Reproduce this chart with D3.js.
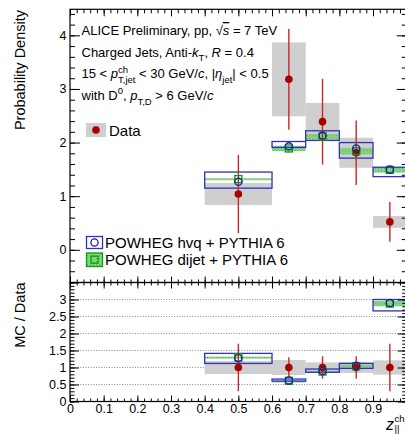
<!DOCTYPE html>
<html><head><meta charset="utf-8">
<script src="https://cdn.jsdelivr.net/npm/d3@7"></script>
<style>
body{margin:0;background:#fff;}
svg text{font-family:"Liberation Sans",Arial,Helvetica,sans-serif;fill:#000;white-space:pre;}
</style></head><body>
<svg id="c" width="405" height="435"></svg>
<script>
// z_||^ch bins
const binLo  = [0.4, 0.6, 0.7, 0.8, 0.9];
const binHi  = [0.6, 0.7, 0.8, 0.9, 1.0];
const binMid = [0.5, 0.65, 0.75, 0.85, 0.95];

// measured distribution
const dataVal  = [1.04, 3.18, 2.39, 1.81, 0.52];
const dataStat = [0.73, 0.94, 0.80, 0.60, 0.37];
const dataSys  = [0.205, 0.69, 0.35, 0.28, 0.11];

// POWHEG hvq + PYTHIA 6
const hvqVal  = [1.27, 1.93, 2.13, 1.89, 1.50];
const hvqLow  = [1.15, 1.91, 2.04, 1.71, 1.365];
const hvqHigh = [1.45, 2.02, 2.22, 2.00, 1.54];

// POWHEG dijet + PYTHIA 6
const dijetVal = [1.32, 1.89, 2.11, 1.84, 1.49];
const dijetErr = [0.015, 0.05, 0.05, 0.06, 0.05];

// MC / Data ratios
const ratioStat     = [0.70, 0.30, 0.33, 0.33, 0.70];
const ratioSys      = [0.19, 0.22, 0.15, 0.16, 0.21];
const hvqRatio      = [1.27, 0.62, 0.90, 1.05, 2.90];
const hvqRatioLow   = [1.12, 0.60, 0.86, 0.975, 2.665];
const hvqRatioHigh  = [1.415, 0.66, 0.955, 1.12, 3.00];
const dijetRatio    = [1.30, 0.61, 0.88, 1.04, 2.88];
const dijetRatioErr = [0.02, 0.01, 0.02, 0.04, 0.08];

// axis ticks
const xMajor = d3.range(0, 1.0001, 0.1).map(v => +v.toFixed(2));
const xMinor = d3.range(0, 1.0001, 0.02).map(v => +v.toFixed(2));
const xLabels = ["0","0.1","0.2","0.3","0.4","0.5","0.6","0.7","0.8","0.9",""];
const topYMajor = [0, 1, 2, 3, 4];
const topYMinor = d3.range(-0.6, 4.41, 0.2).map(v => +v.toFixed(2));
const ratioYMajor = [0, 0.5, 1, 1.5, 2, 2.5, 3, 3.5];
const ratioYLabels = ["0","0.5","1","1.5","2","2.5","3",""];
const ratioYMinor = d3.range(0, 3.501, 0.1).map(v => +v.toFixed(2));
const ratioGrid = [0.5, 1, 1.5, 2, 2.5, 3];

const C = {
  grey: "#cfcfcf", red: "#a80000", redErr: "#c82828",
  blue: "#3030b8", blueMk: "#1c1ca8", green: "#00a000"
};

const svg = d3.select("#c");
const defs = svg.append("defs");
const pat = defs.append("pattern").attr("id", "hatch")
  .attr("width", 3).attr("height", 3).attr("patternUnits", "userSpaceOnUse");
pat.append("rect").attr("width", 3).attr("height", 3).attr("fill", "#a6dca6");
pat.append("rect").attr("width", 1.5).attr("height", 1.5).attr("fill", "#48b848");
pat.append("rect").attr("x", 1.5).attr("y", 1.5).attr("width", 1.5).attr("height", 1.5).attr("fill", "#6cc66c");

const X0 = 70, X1 = 406.7;
const topY0 = 9.3, midY = 282.5, botY = 401.5;

const x = d3.scaleLinear([0, 1], [X0, X1]);
const yTop = d3.scaleLinear([-0.61, 4.486], [midY, topY0]);
const yRat = d3.scaleLinear([0, 3.5], [botY, midY]);

const FONT_TICK = "12.5px";

function ticks(g, scale, vals, orient, pos, len, labels) {
  const ax = (orient === "bottom" ? d3.axisBottom : orient === "top" ? d3.axisTop :
              orient === "left" ? d3.axisLeft : d3.axisRight)(scale)
    .tickValues(vals).tickSizeInner(-len).tickSizeOuter(0)
    .tickPadding(orient === "left" ? 3.5 : 3)
    .tickFormat((d, i) => labels ? labels[i] : "");
  const tr = (orient === "bottom" || orient === "top") ? `translate(0,${pos})` : `translate(${pos},0)`;
  const a = g.append("g").attr("transform", tr).call(ax);
  a.select(".domain").remove();
  a.selectAll("line").attr("stroke", "#000").attr("stroke-width", 1);
  a.selectAll("text").style("font-size", FONT_TICK).attr("fill", "#000");
  return a;
}

// ---------------- upper panel ----------------
const upper = svg.append("g");

// data systematic boxes
upper.selectAll(".dsys").data(dataVal).join("rect")
  .attr("x", (d, i) => x(binLo[i])).attr("width", (d, i) => x(binHi[i]) - x(binLo[i]))
  .attr("y", (d, i) => yTop(d + dataSys[i]))
  .attr("height", (d, i) => yTop(d - dataSys[i]) - yTop(d + dataSys[i]))
  .attr("fill", C.grey);

// dijet bands
upper.selectAll(".djb").data(dijetVal).join("rect")
  .attr("x", (d, i) => x(binLo[i])).attr("width", (d, i) => x(binHi[i]) - x(binLo[i]))
  .attr("y", (d, i) => yTop(d + dijetErr[i]))
  .attr("height", (d, i) => Math.max(2, yTop(d - dijetErr[i]) - yTop(d + dijetErr[i])))
  .attr("fill", "url(#hatch)");

// hvq boxes
upper.selectAll(".hvb").data(hvqVal).join("rect")
  .attr("x", (d, i) => x(binLo[i])).attr("width", (d, i) => x(binHi[i]) - x(binLo[i]))
  .attr("y", (d, i) => yTop(hvqHigh[i]))
  .attr("height", (d, i) => yTop(hvqLow[i]) - yTop(hvqHigh[i]))
  .attr("fill", "none").attr("stroke", C.blue).attr("stroke-width", 1.3);

// data statistical errors
upper.selectAll(".dst").data(dataVal).join("line")
  .attr("x1", (d, i) => x(binMid[i])).attr("x2", (d, i) => x(binMid[i]))
  .attr("y1", (d, i) => yTop(d + dataStat[i])).attr("y2", (d, i) => yTop(d - dataStat[i]))
  .attr("stroke", C.redErr).attr("stroke-width", 1.4);

upper.selectAll(".dmk").data(dataVal).join("circle")
  .attr("cx", (d, i) => x(binMid[i])).attr("cy", d => yTop(d)).attr("r", 3.8)
  .attr("fill", C.red);

upper.selectAll(".djm").data(dijetVal).join("rect")
  .attr("x", (d, i) => x(binMid[i]) - 3.5).attr("y", d => yTop(d) - 3.5)
  .attr("width", 7).attr("height", 7)
  .attr("fill", "none").attr("stroke", C.green).attr("stroke-width", 1.3);

upper.selectAll(".hvm").data(hvqVal).join("circle")
  .attr("cx", (d, i) => x(binMid[i])).attr("cy", d => yTop(d)).attr("r", 3.6)
  .attr("fill", "none").attr("stroke", C.blueMk).attr("stroke-width", 1.3);

// axes and frame of upper panel
ticks(upper, x, xMajor, "bottom", midY, 6);
ticks(upper, x, xMinor, "bottom", midY, 3);
ticks(upper, x, xMajor, "top", topY0, 7);
ticks(upper, x, xMinor, "top", topY0, 4);
ticks(upper, yTop, topYMajor, "left", X0, 10, topYMajor.map(String));
ticks(upper, yTop, topYMinor, "left", X0, 5);
ticks(upper, yTop, topYMajor, "right", X1, 10);
ticks(upper, yTop, topYMinor, "right", X1, 5);
upper.append("rect").attr("x", X0).attr("y", topY0).attr("width", X1 - X0).attr("height", midY - topY0)
  .attr("fill", "none").attr("stroke", "#000").attr("stroke-width", 1.2);

// ---------------- ratio panel ----------------
const lower = svg.append("g");

lower.selectAll(".grid").data(ratioGrid).join("line")
  .attr("x1", X0).attr("x2", X1).attr("y1", d => yRat(d)).attr("y2", d => yRat(d))
  .attr("stroke", "#8a8a8a").attr("stroke-width", 1).attr("stroke-dasharray", "1,1.6");

lower.selectAll(".rsys").data(ratioSys).join("rect")
  .attr("x", (d, i) => x(binLo[i])).attr("width", (d, i) => x(binHi[i]) - x(binLo[i]))
  .attr("y", d => yRat(1 + d)).attr("height", d => yRat(1 - d) - yRat(1 + d))
  .attr("fill", C.grey);

lower.selectAll(".rdj").data(dijetRatio).join("rect")
  .attr("x", (d, i) => x(binLo[i])).attr("width", (d, i) => x(binHi[i]) - x(binLo[i]))
  .attr("y", (d, i) => yRat(d + dijetRatioErr[i]))
  .attr("height", (d, i) => Math.max(2, yRat(d - dijetRatioErr[i]) - yRat(d + dijetRatioErr[i])))
  .attr("fill", "url(#hatch)");

lower.selectAll(".rhv").data(hvqRatio).join("rect")
  .attr("x", (d, i) => x(binLo[i])).attr("width", (d, i) => x(binHi[i]) - x(binLo[i]))
  .attr("y", (d, i) => yRat(hvqRatioHigh[i]))
  .attr("height", (d, i) => yRat(hvqRatioLow[i]) - yRat(hvqRatioHigh[i]))
  .attr("fill", "none").attr("stroke", C.blue).attr("stroke-width", 1.3);

lower.selectAll(".rst").data(ratioStat).join("line")
  .attr("x1", (d, i) => x(binMid[i])).attr("x2", (d, i) => x(binMid[i]))
  .attr("y1", d => yRat(1 + d)).attr("y2", d => yRat(1 - d))
  .attr("stroke", C.redErr).attr("stroke-width", 1.4);

lower.selectAll(".rmk").data(binMid).join("circle")
  .attr("cx", d => x(d)).attr("cy", yRat(1)).attr("r", 3.8).attr("fill", C.red);

lower.selectAll(".rdm").data(dijetRatio).join("rect")
  .attr("x", (d, i) => x(binMid[i]) - 3.5).attr("y", d => yRat(d) - 3.5)
  .attr("width", 7).attr("height", 7)
  .attr("fill", "none").attr("stroke", C.green).attr("stroke-width", 1.3);

lower.selectAll(".rhm").data(hvqRatio).join("circle")
  .attr("cx", (d, i) => x(binMid[i])).attr("cy", d => yRat(d)).attr("r", 3.6)
  .attr("fill", "none").attr("stroke", C.blueMk).attr("stroke-width", 1.3);

ticks(lower, x, xMajor, "bottom", botY, 6, xLabels);
ticks(lower, x, xMinor, "bottom", botY, 3);
ticks(lower, x, xMajor, "top", midY, 6);
ticks(lower, x, xMinor, "top", midY, 3);
ticks(lower, yRat, ratioYMajor, "left", X0, 9, ratioYLabels);
ticks(lower, yRat, ratioYMinor, "left", X0, 4.5);
ticks(lower, yRat, ratioYMajor, "right", X1, 9);
ticks(lower, yRat, ratioYMinor, "right", X1, 4.5);
lower.append("rect").attr("x", X0).attr("y", midY).attr("width", X1 - X0).attr("height", botY - midY)
  .attr("fill", "none").attr("stroke", "#000").attr("stroke-width", 1.2);

// ---------------- texts ----------------
// lays out a run of text pieces; a piece flagged "stack" shares its x with the next one
function rich(g, x0, y0, parts, size) {
  let cx = x0, stackX = null, stackW = 0;
  parts.forEach(p => {
    const t = g.append("text")
      .attr("x", stackX !== null ? stackX : cx).attr("y", y0 + (p.dy || 0))
      .attr("xml:space", "preserve")
      .style("font-size", (p.sz || size) + "px")
      .style("font-style", p.it ? "italic" : "normal")
      .text(p.t);
    if (p.over) t.style("text-decoration", "overline");
    const w = t.node().getComputedTextLength();
    if (p.stack) { stackX = cx; stackW = w; }
    else if (stackX !== null) { cx = stackX + Math.max(stackW, w); stackX = null; }
    else cx += w;
  });
}

const txt = svg.append("g");
rich(txt, 81.5, 35, [
  {t: "ALICE Preliminary, pp, "}, {t: "\u221A"}, {t: "s", it: true, over: true}, {t: " = 7 TeV"}
], 13);
rich(txt, 81.5, 56.5, [
  {t: "Charged Jets, Anti-"}, {t: "k", it: true}, {t: "T", sz: 9.5, dy: 4}, {t: ", "},
  {t: "R", it: true}, {t: " = 0.4"}
], 13);
rich(txt, 81.5, 78, [
  {t: "15 < "}, {t: "p", it: true}, {t: "ch", sz: 9.5, dy: -5.5, stack: true},
  {t: "T,jet", sz: 9.5, dy: 5}, {t: " < 30 GeV/"}, {t: "c", it: true}, {t: ", |"},
  {t: "\u03B7", it: true}, {t: "jet", sz: 9.5, dy: 5}, {t: "| < 0.5"}
], 13);
rich(txt, 81.5, 99.5, [
  {t: "with D"}, {t: "0", sz: 9.5, dy: -5.5}, {t: ", "}, {t: "p", it: true},
  {t: "T,D", sz: 9.5, dy: 5}, {t: " > 6 GeV/"}, {t: "c", it: true}
], 13);

// legends
const leg = svg.append("g");
leg.append("rect").attr("x", 86).attr("y", 123).attr("width", 20).attr("height", 14).attr("fill", C.grey);
leg.append("circle").attr("cx", 96).attr("cy", 130).attr("r", 3.8).attr("fill", C.red);
leg.append("text").attr("x", 109).attr("y", 135.5).style("font-size", "15px").text("Data");

leg.append("rect").attr("x", 86.5).attr("y", 236.5).attr("width", 16).attr("height", 12)
  .attr("fill", "none").attr("stroke", C.blue).attr("stroke-width", 1.3);
leg.append("circle").attr("cx", 94.5).attr("cy", 242.5).attr("r", 3.6)
  .attr("fill", "none").attr("stroke", C.blueMk).attr("stroke-width", 1.3);
leg.append("text").attr("x", 105).attr("y", 247.8).style("font-size", "15px").text("POWHEG hvq + PYTHIA 6");

leg.append("rect").attr("x", 86.5).attr("y", 253).attr("width", 16).attr("height", 13.5)
  .attr("fill", "url(#hatch)").attr("stroke", C.green).attr("stroke-width", 1.3);
leg.append("rect").attr("x", 91).attr("y", 256.2).attr("width", 7).attr("height", 7)
  .attr("fill", "none").attr("stroke", C.green).attr("stroke-width", 1.3);
leg.append("text").attr("x", 105).attr("y", 264.5).style("font-size", "15px").text("POWHEG dijet + PYTHIA 6");

// axis titles
svg.append("text").attr("transform", "translate(25,10) rotate(-90)")
  .attr("text-anchor", "end").style("font-size", "14.5px").text("Probability Density");
svg.append("text").attr("transform", "translate(25,282.5) rotate(-90)")
  .attr("text-anchor", "end").style("font-size", "14.5px").text("MC / Data");

const xt = svg.append("g");
xt.append("text").attr("x", 386).attr("y", 429.5).style("font-size", "16px").style("font-style", "italic").text("z");
xt.append("text").attr("x", 394.5).attr("y", 421.5).style("font-size", "9.5px").text("ch");
xt.append("text").attr("x", 394.5).attr("y", 432).style("font-size", "9.5px").text("||");
</script>
</body></html>
